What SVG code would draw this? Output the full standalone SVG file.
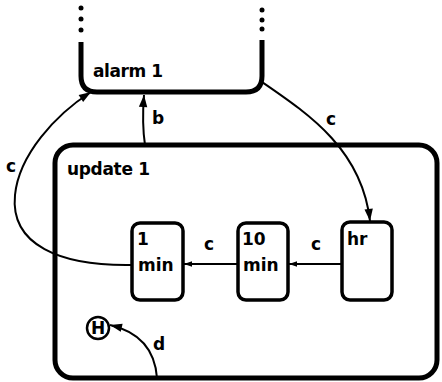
<svg xmlns="http://www.w3.org/2000/svg" width="442" height="382" viewBox="0 0 442 382">
<style>
.state{fill:none;stroke:#000;stroke-width:5}
.box{fill:none;stroke:#000;stroke-width:3.5}
.edge{fill:none;stroke:#000;stroke-width:2}
.t{font-family:"DejaVu Sans",sans-serif;font-size:17px;font-weight:bold;fill:#000}
.lbl{font-family:"DejaVu Sans",sans-serif;font-size:17px;font-weight:bold;fill:#000}
</style>
<defs>
<marker id="ahs" viewBox="0 0 10 10" refX="10" refY="5" markerWidth="8" markerHeight="8" markerUnits="userSpaceOnUse" orient="auto">
<path d="M0,1.5 L10,5 L0,8.5 Z" fill="#000"/>
</marker>
<marker id="aho" viewBox="0 0 10 10" refX="10" refY="5" markerWidth="14" markerHeight="12" markerUnits="userSpaceOnUse" orient="auto">
<path d="M0,1.5 L10,5 L0,8.5 Z" fill="#000"/>
</marker>
</defs>
<g id="alarm1">
<circle cx="81" cy="8" r="2.5"/><circle cx="81" cy="19" r="2.5"/><circle cx="81" cy="30" r="2.5"/>
<circle cx="262" cy="10" r="2.5"/><circle cx="262" cy="20" r="2.5"/><circle cx="262" cy="29" r="2.5"/>
<path class="state" d="M81,42 V76 Q81,92 97,92 H246 Q262,92 262,76 V40"/>
<text class="t" x="93" y="77" textLength="70">alarm 1</text>
</g>
<g id="update1">
<rect class="state" x="55" y="145" width="382" height="233" rx="18"/>
<text class="t" x="67" y="175" textLength="83">update 1</text>
</g>
<g id="min1">
<rect class="box" x="132" y="223" width="51" height="77" rx="8"/>
<text class="t" x="137" y="245">1</text>
<text class="t" x="138" y="271">min</text>
</g>
<g id="min10">
<rect class="box" x="238" y="223" width="50" height="77" rx="8"/>
<text class="t" x="242" y="245">10</text>
<text class="t" x="243" y="271">min</text>
</g>
<g id="hr">
<rect class="box" x="342" y="222" width="50" height="78" rx="8"/>
<text class="t" x="347" y="245">hr</text>
</g>
<g id="history">
<circle cx="98" cy="328" r="11" fill="none" stroke="#000" stroke-width="2.5"/>
<text class="t" x="98" y="334" text-anchor="middle" font-size="15">H</text>
</g>
<g id="connectors">
<path class="edge" d="M262,82 C310,115 362,150 370,221" marker-end="url(#aho)"/>
<path class="edge" d="M145,145 C142,125 143,108 144,95" marker-end="url(#aho)"/>
<path class="edge" d="M131,265 C60,266 10,245 15,195 C19,155 55,115 91,92" marker-end="url(#aho)"/>
<path class="edge" d="M342,264 H289" marker-end="url(#ahs)"/>
<path class="edge" d="M238,264 H184" marker-end="url(#ahs)"/>
<path class="edge" d="M157,378 C155,350 140,332 110,325" marker-end="url(#aho)"/>
<text class="lbl" x="152" y="124">b</text>
<text class="lbl" x="326" y="125">c</text>
<text class="lbl" x="6" y="172">c</text>
<text class="lbl" x="204" y="250">c</text>
<text class="lbl" x="311" y="250">c</text>
<text class="lbl" x="153" y="350">d</text>
</g>
</svg>
